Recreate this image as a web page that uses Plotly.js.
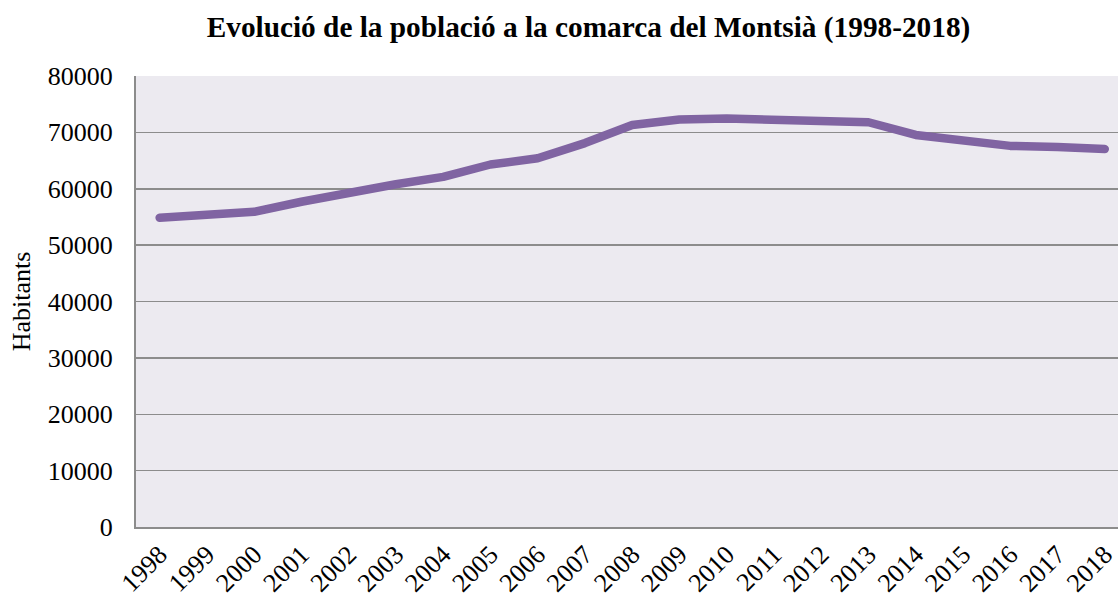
<!DOCTYPE html>
<html>
<head>
<meta charset="utf-8">
<script src="https://cdn.plot.ly/plotly-3.0.1.min.js"></script>
<style>
html, body { margin: 0; padding: 0; background: #ffffff; overflow: hidden; }
#chart { width: 1118px; height: 601px; }
.scatterlayer path.js-line { stroke-linecap: round; stroke-linejoin: round; }
</style>
</head>
<body>
<div id="chart"></div>
<script>
var years = ["1998","1999","2000","2001","2002","2003","2004","2005","2006","2007",
             "2008","2009","2010","2011","2012","2013","2014","2015","2016","2017","2018"];
var habitants = [54860, 55300, 55900, 57700, 59300, 60800, 62100, 64300, 65400, 68100,
                 71300, 72300, 72450, 72350, 72150, 71800, 69550, 68500, 67600, 67400, 67050];
var yTicks = [0, 10000, 20000, 30000, 40000, 50000, 60000, 70000, 80000];
var chartTitle = "Evolució de la població a la comarca del Montsià (1998-2018)";
var yTitle = "Habitants";

var serif = "Liberation Serif";

var trace = {
  x: years,
  y: habitants,
  type: "scatter",
  mode: "lines",
  line: { color: "#8064A2", width: 8.5 },
  hoverinfo: "x+y"
};

var layout = {
  width: 1118,
  height: 601,
  margin: { l: 136, r: 0, t: 76, b: 74 },
  paper_bgcolor: "#ffffff",
  plot_bgcolor: "#ECEAF0",
  showlegend: false,
  font: { family: serif, color: "#000000" },
  title: {
    text: "<b>" + chartTitle + "</b>",
    font: { family: serif, size: 29.3, color: "#000000" },
    xref: "container", x: 0.5264, xanchor: "center",
    yref: "container", y: 0.955, yanchor: "middle"
  },
  xaxis: {
    type: "category",
    range: [-0.5, 20.28],
    showgrid: false,
    zeroline: false,
    showline: true,
    linecolor: "#8c8c8c",
    linewidth: 2,
    ticks: "",
    tickangle: -45,
    tickfont: { family: serif, size: 26, color: "#000000" },
    fixedrange: true
  },
  yaxis: {
    range: [0, 80000],
    tickvals: yTicks,
    ticktext: yTicks.map(String),
    showgrid: true,
    gridcolor: "#8c8c8c",
    gridwidth: 1.5,
    zeroline: false,
    showline: true,
    linecolor: "#8c8c8c",
    linewidth: 2,
    ticks: "",
    ticklabelstandoff: 16,
    tickfont: { family: serif, size: 26, color: "#000000" },
    title: {
      text: yTitle,
      font: { family: serif, size: 26, color: "#000000" },
      standoff: 10
    },
    fixedrange: true
  }
};

Plotly.newPlot("chart", [trace], layout, { displayModeBar: false, staticPlot: true });
</script>
</body>
</html>
